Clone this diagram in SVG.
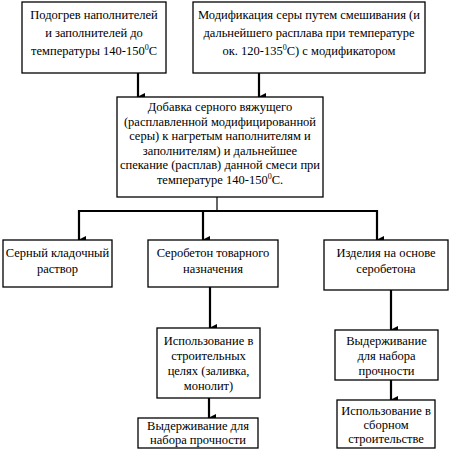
<svg xmlns="http://www.w3.org/2000/svg" width="449" height="463" viewBox="0 0 449 463">
<style>
.box{fill:#fff;stroke:#000;stroke-width:1.3}
text{font-family:'Liberation Serif',serif;font-size:12.5px;fill:#000;text-anchor:middle}
.thin{stroke:#000;stroke-width:1.2;fill:none}
.thick{stroke:#000;stroke-width:2.2;fill:none}
</style>
<defs>
<marker id="ah" markerWidth="8" markerHeight="8" refX="4" refY="7" orient="auto-start-reverse" markerUnits="userSpaceOnUse" viewBox="0 0 8 8">
<path d="M0,0 L8,0 L4,8 Z" fill="#000"/>
</marker>
</defs>
<rect width="449" height="463" fill="#fff"/>
<g id="connectors">
<line class="thick" x1="138" y1="73" x2="138" y2="97" marker-end="url(#ah)"/>
<line class="thick" x1="259" y1="73" x2="259" y2="97" marker-end="url(#ah)"/>
<line class="thin" x1="217" y1="197" x2="217" y2="211"/>
<line class="thick" x1="79" y1="211" x2="377" y2="211"/>
<line class="thick" x1="79" y1="210" x2="79" y2="240" marker-end="url(#ah)"/>
<line class="thick" x1="203" y1="210" x2="203" y2="240" marker-end="url(#ah)"/>
<line class="thick" x1="377" y1="210" x2="377" y2="240" marker-end="url(#ah)"/>
<line class="thick" x1="210" y1="287" x2="210" y2="328" marker-end="url(#ah)"/>
<line class="thick" x1="391" y1="290" x2="391" y2="330" marker-end="url(#ah)"/>
<line class="thick" x1="209" y1="398" x2="209" y2="418" marker-end="url(#ah)"/>
<line class="thick" x1="391" y1="380" x2="391" y2="400" marker-end="url(#ah)"/>
</g>
<g id="n1">
<rect class="box" x="22" y="2" width="144" height="71"/>
<text x="94" y="19">Подогрев наполнителей</text>
<text x="94" y="37">и заполнителей до</text>
<text x="94" y="55">температуры 140-150<tspan font-size="8" dy="-5">0</tspan><tspan dy="5">С</tspan></text>
</g>
<g id="n2">
<rect class="box" x="193" y="2" width="232" height="71"/>
<text x="309" y="19">Модификация серы путем смешивания (и</text>
<text x="309" y="37">дальнейшего расплава при температуре</text>
<text x="309" y="55">ок. 120-135<tspan font-size="8" dy="-5">0</tspan><tspan dy="5">С) с модификатором</tspan></text>
</g>
<g id="n3">
<rect class="box" x="117" y="97" width="206" height="100"/>
<text x="220" y="111">Добавка серного вяжущего</text>
<text x="220" y="125.5">(расплавленной модифицированной</text>
<text x="220" y="140">серы) к нагретым наполнителям и</text>
<text x="220" y="154.5">заполнителям) и дальнейшее</text>
<text x="220" y="169">спекание (расплав) данной смеси при</text>
<text x="220" y="183.5">температуре 140-150<tspan font-size="8" dy="-5">0</tspan><tspan dy="5">С.</tspan></text>
</g>
<g id="n4">
<rect class="box" x="3" y="240" width="109" height="47"/>
<text x="57.5" y="257">Серный кладочный</text>
<text x="57.5" y="273">раствор</text>
</g>
<g id="n5">
<rect class="box" x="148" y="240" width="130" height="47"/>
<text x="213" y="257">Серобетон товарного</text>
<text x="213" y="273">назначения</text>
</g>
<g id="n6">
<rect class="box" x="324" y="240" width="124" height="50"/>
<text x="386" y="257">Изделия на основе</text>
<text x="386" y="273">серобетона</text>
</g>
<g id="n7">
<rect class="box" x="157" y="328" width="103" height="70"/>
<text x="208.5" y="345">Использование в</text>
<text x="208.5" y="360">строительных</text>
<text x="208.5" y="375">целях (заливка,</text>
<text x="208.5" y="390">монолит)</text>
</g>
<g id="n8">
<rect class="box" x="138" y="418" width="120" height="30"/>
<text x="198" y="430">Выдерживание для</text>
<text x="198" y="444">набора прочности</text>
</g>
<g id="n9">
<rect class="box" x="335" y="330" width="103" height="50"/>
<text x="386.5" y="345">Выдерживание</text>
<text x="386.5" y="360">для набора</text>
<text x="386.5" y="375">прочности</text>
</g>
<g id="n10">
<rect class="box" x="337" y="400" width="98" height="48"/>
<text x="386" y="415">Использование в</text>
<text x="386" y="429">сборном</text>
<text x="386" y="443">строительстве</text>
</g>
</svg>
